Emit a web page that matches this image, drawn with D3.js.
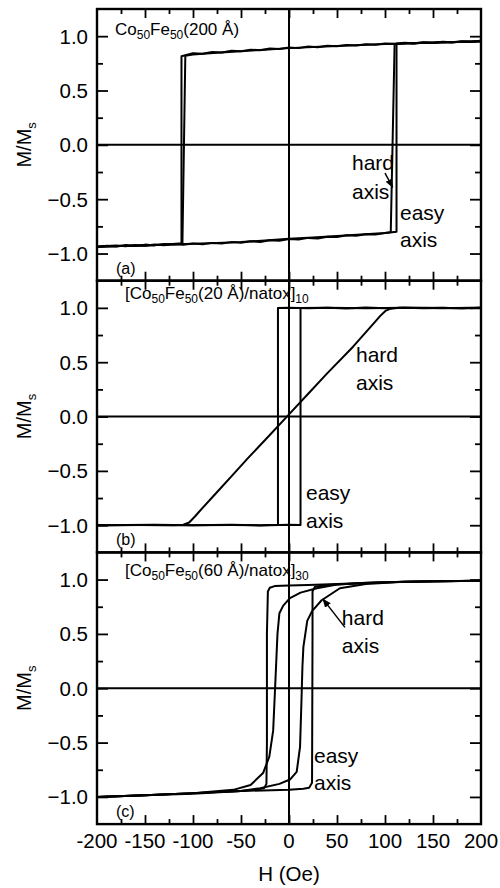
<!DOCTYPE html>
<html>
<head>
<meta charset="utf-8">
<script src="https://cdn.jsdelivr.net/npm/d3@7"></script>
<style>
body { margin: 0; background: #fff; }
text { font-family: "Liberation Sans", Arial, sans-serif; fill: #000; }
</style>
</head>
<body>
<svg id="chart" width="500" height="888"></svg>
<script>
// ---- data: [H (Oe), M/Ms] ----
var xTicksMajor = [-200, -150, -100, -50, 0, 50, 100, 150, 200];
var xTicksMinor = [-175, -125, -75, -25, 25, 75, 125, 175];
var yTicksMajor = [-1.0, -0.5, 0.0, 0.5, 1.0];
var yTicksMinor = [-0.75, -0.25, 0.25, 0.75];

// (a) Co50Fe50(200 A)
var aEasyDown = [[200,0.957],[190,0.950],[180,0.953],[170,0.944],[160,0.948],[150,0.940],[140,0.944],[130,0.934],[120,0.939],[110,0.929],[100,0.933],[90,0.922],[80,0.926],[70,0.915],[60,0.919],[50,0.907],[40,0.912],[30,0.899],[20,0.905],[10,0.890],[0,0.896],[-10,0.881],[-20,0.886],[-30,0.870],[-40,0.876],[-50,0.861],[-60,0.865],[-70,0.850],[-80,0.855],[-90,0.838],[-100,0.843],[-112,0.815],[-112,-0.912],[-120,-0.918],[-130,-0.912],[-140,-0.925],[-150,-0.918],[-160,-0.930],[-170,-0.922],[-180,-0.935],[-190,-0.928],[-200,-0.94]];
var aEasyUp = [[-200,-0.935],[-190,-0.930],[-180,-0.926],[-170,-0.932],[-160,-0.922],[-150,-0.928],[-140,-0.918],[-130,-0.924],[-120,-0.912],[-110,-0.919],[-100,-0.908],[-90,-0.914],[-80,-0.902],[-70,-0.908],[-60,-0.895],[-50,-0.901],[-40,-0.887],[-30,-0.893],[-20,-0.878],[-10,-0.882],[0,-0.866],[10,-0.872],[20,-0.856],[30,-0.861],[40,-0.845],[50,-0.849],[60,-0.832],[70,-0.837],[80,-0.822],[90,-0.826],[100,-0.812],[112,-0.800],[112,0.930],[120,0.936],[130,0.931],[140,0.942],[150,0.937],[160,0.947],[170,0.942],[180,0.952],[190,0.948],[200,0.957]];
var aHardDown = [[200,0.950],[175,0.946],[150,0.942],[125,0.936],[100,0.928],[75,0.918],[50,0.910],[25,0.900],[0,0.890],[-25,0.876],[-50,0.862],[-75,0.848],[-100,0.832],[-108,0.820],[-111,-0.905],[-125,-0.915],[-150,-0.925],[-175,-0.930],[-200,-0.938]];
var aHardUp = [[-200,-0.94],[-175,-0.93],[-150,-0.925],[-125,-0.918],[-100,-0.91],[-75,-0.902],[-50,-0.894],[-25,-0.88],[0,-0.865],[25,-0.852],[50,-0.838],[75,-0.825],[100,-0.812],[106,-0.805],[110,0.925],[125,0.935],[150,0.94],[175,0.946],[200,0.952]];

// (b) [Co50Fe50(20 A)/natox]10
var bEasyDown = [[200,1.0],[180,0.995],[160,1.002],[140,0.996],[120,1.0],[100,0.997],[80,1.003],[60,0.995],[40,1.001],[20,0.996],[0,1.0],[-11.5,0.998],[-11.5,-0.995],[-30,-1.0],[-60,-0.997],[-100,-1.0],[-140,-0.996],[-200,-1.0]];
var bEasyUp = [[-200,-1.0],[-150,-0.998],[-100,-1.0],[-60,-0.996],[-30,-1.002],[0,-0.995],[12,-0.998],[12,0.998],[40,1.0],[80,0.997],[120,1.0],[160,0.996],[200,1.0]];
var bHard = [[-200,-1.0],[-160,-0.998],[-120,-1.0],[-110,-0.995],[-104,-0.975],[-98,-0.92],[-90,-0.84],[-77,-0.715],[-60,-0.55],[-43,-0.385],[-20,-0.17],[0,0.02],[20,0.21],[40,0.40],[67,0.645],[88,0.855],[96,0.935],[101,0.975],[106,0.993],[115,1.0],[140,1.0],[170,0.998],[200,1.0]];

// (c) [Co50Fe50(60 A)/natox]30
var cEasyDown = [[200,0.99],[150,0.985],[100,0.975],[50,0.96],[20,0.95],[0,0.945],[-15,0.94],[-20,0.925],[-22,0.89],[-23,0.5],[-23,-0.5],[-23.5,-0.88],[-26,-0.92],[-35,-0.935],[-50,-0.945],[-100,-0.965],[-150,-0.985],[-200,-1.0]];
var cEasyUp = [[-200,-1.0],[-150,-0.985],[-100,-0.965],[-50,-0.945],[0,-0.935],[15,-0.925],[21,-0.915],[24,-0.87],[24.5,0.5],[24.5,0.89],[27,0.935],[40,0.95],[60,0.96],[100,0.975],[150,0.985],[200,0.99]];
var cHardDown = [[200,0.99],[120,0.98],[80,0.97],[50,0.955],[29,0.92],[12,0.88],[1,0.83],[-6,0.76],[-10,0.69],[-12,0.5],[-13,0.3],[-14.5,0.0],[-16.5,-0.39],[-20.5,-0.63],[-27,-0.78],[-40,-0.89],[-58,-0.935],[-100,-0.965],[-150,-0.985],[-200,-1.0]];
var cHardUp = [[-200,-1.0],[-150,-0.985],[-100,-0.97],[-50,-0.945],[-30,-0.92],[-10,-0.88],[1,-0.84],[8,-0.77],[11.5,-0.54],[13,-0.11],[14,0.2],[15,0.38],[17,0.5],[19,0.62],[24,0.71],[34,0.81],[53,0.92],[80,0.96],[120,0.98],[200,0.99]];

// ---- layout ----
var svg = d3.select('#chart');
var left = 97, plotW = 384, top0 = 9, panelH = 271.7;

var x = d3.scaleLinear().domain([-200, 200]).range([left, left + plotW]);

var panels = [
    {name: 'a', title: ['Co', '50', 'Fe', '50', '(200 Å)'], curves: [aEasyDown, aEasyUp, aHardDown, aHardUp], titleY: 26, titleX: 115,
     notes: [{t: 'hard', h: 65.6, m: -0.23}, {t: 'axis', h: 65.6, m: -0.50}, {t: 'easy', h: 115.6, m: -0.69}, {t: 'axis', h: 115.6, m: -0.94}],
     arrow: [[100, -0.26], [108, -0.39]]},
    {name: 'b', title: ['[Co', '50', 'Fe', '50', '(20 Å)/natox]', '10'], curves: [bEasyDown, bEasyUp, bHard], titleY: 18, titleX: 125,
     notes: [{t: 'hard', h: 69.8, m: 0.50}, {t: 'axis', h: 69.8, m: 0.24}, {t: 'easy', h: 17.7, m: -0.77}, {t: 'axis', h: 17.7, m: -1.03}]},
    {name: 'c', title: ['[Co', '50', 'Fe', '50', '(60 Å)/natox]', '30'], curves: [cEasyDown, cEasyUp, cHardDown, cHardUp], titleY: 24, titleX: 125,
     notes: [{t: 'hard', h: 55, m: 0.58}, {t: 'axis', h: 55, m: 0.32}, {t: 'easy', h: 26, m: -0.69}, {t: 'axis', h: 26, m: -0.94}],
     arrow: [[58.3, 0.56], [35.4, 0.82]]}
];

svg.append('defs').append('marker')
    .attr('id', 'head')
    .attr('viewBox', '0 0 10 10')
    .attr('refX', 9).attr('refY', 5)
    .attr('markerWidth', 9).attr('markerHeight', 9)
    .attr('markerUnits', 'userSpaceOnUse')
    .attr('orient', 'auto')
  .append('path')
    .attr('d', 'M0,1 L10,5 L0,9 Z')
    .attr('fill', '#000');

panels.forEach(function(p, i) {
    var y0 = top0 + i * panelH;
    var y = d3.scaleLinear().domain([-1.25, 1.25]).range([y0 + panelH, y0]);
    var g = svg.append('g').attr('class', 'panel-' + p.name);

    // zero lines
    g.append('line')
        .attr('x1', x(-200)).attr('x2', x(200)).attr('y1', y(0)).attr('y2', y(0))
        .attr('stroke', '#000').attr('stroke-width', 2);
    g.append('line')
        .attr('x1', x(0)).attr('x2', x(0)).attr('y1', y(-1.25)).attr('y2', y(1.25))
        .attr('stroke', '#000').attr('stroke-width', 2);

    // y ticks, inward on both sides
    var axL = d3.axisRight(y).tickValues(yTicksMajor).tickSize(11).tickFormat('');
    var axLm = d3.axisRight(y).tickValues(yTicksMinor).tickSize(6).tickFormat('');
    var axR = d3.axisLeft(y).tickValues(yTicksMajor).tickSize(11).tickFormat('');
    var axRm = d3.axisLeft(y).tickValues(yTicksMinor).tickSize(6).tickFormat('');
    [[axL, left], [axLm, left], [axR, left + plotW], [axRm, left + plotW]].forEach(function(a) {
        var ga = g.append('g').attr('transform', 'translate(' + a[1] + ',0)').call(a[0]);
        ga.select('.domain').remove();
        ga.selectAll('line').attr('stroke-width', 1.8);
    });

    // y labels
    g.selectAll('text.ylab').data(yTicksMajor).enter().append('text')
        .attr('class', 'ylab')
        .attr('x', left - 9).attr('y', function(d) { return y(d) + 7.5; })
        .attr('text-anchor', 'end').attr('font-size', 20.5)
        .text(function(d) { return d3.format('.1f')(d); });

    // x ticks: top and bottom edge of every panel, inward
    var axTop = d3.axisBottom(x).tickValues(xTicksMajor.slice(1, -1)).tickSize(9).tickFormat('');
    var axTopm = d3.axisBottom(x).tickValues(xTicksMinor).tickSize(5).tickFormat('');
    var axBot = d3.axisTop(x).tickValues(xTicksMajor.slice(1, -1)).tickSize(9).tickFormat('');
    var axBotm = d3.axisTop(x).tickValues(xTicksMinor).tickSize(5).tickFormat('');
    [[axTop, y0], [axTopm, y0], [axBot, y0 + panelH], [axBotm, y0 + panelH]].forEach(function(a) {
        var ga = g.append('g').attr('transform', 'translate(0,' + a[1] + ')').call(a[0]);
        ga.select('.domain').remove();
        ga.selectAll('line').attr('stroke-width', 1.8);
    });

    // curves
    var line = d3.line().x(function(d) { return x(d[0]); }).y(function(d) { return y(d[1]); });
    g.selectAll('path.curve').data(p.curves).enter().append('path')
        .attr('class', 'curve')
        .attr('d', line)
        .attr('fill', 'none').attr('stroke', '#000')
        .attr('stroke-width', 2).attr('stroke-linejoin', 'round');

    // frame
    g.append('rect')
        .attr('x', left).attr('y', y0).attr('width', plotW).attr('height', panelH)
        .attr('fill', 'none').attr('stroke', '#000').attr('stroke-width', 2.4);

    // title with subscripts
    var t = g.append('text').attr('x', p.titleX).attr('y', y0 + p.titleY).attr('font-size', 17);
    p.title.forEach(function(s, k) {
        var sub = k % 2 == 1;
        t.append('tspan')
            .attr('font-size', sub ? 12 : 17)
            .attr('dy', k == 0 ? 0 : (sub ? 4 : -4))
            .text(s);
    });

    // panel letter
    g.append('text')
        .attr('x', 116).attr('y', y0 + panelH - 7)
        .attr('font-size', 16)
        .text('(' + p.name + ')');

    // notes
    g.selectAll('text.note').data(p.notes).enter().append('text')
        .attr('class', 'note')
        .attr('x', function(d) { return x(d.h); })
        .attr('y', function(d) { return y(d.m); })
        .attr('font-size', 21)
        .text(function(d) { return d.t; });

    if (p.arrow) {
        g.append('line')
            .attr('x1', x(p.arrow[0][0])).attr('y1', y(p.arrow[0][1]))
            .attr('x2', x(p.arrow[1][0])).attr('y2', y(p.arrow[1][1]))
            .attr('stroke', '#000').attr('stroke-width', 1.5)
            .attr('marker-end', 'url(#head)');
    }

    // y axis title
    var yl = g.append('text')
        .attr('transform', 'translate(31,' + (y0 + panelH / 2) + ') rotate(-90)')
        .attr('text-anchor', 'middle').attr('font-size', 20);
    yl.append('tspan').text('M/M');
    yl.append('tspan').attr('font-size', 13).attr('dy', 5).text('s');
});

// bottom x labels
var yb = top0 + 3 * panelH;
svg.selectAll('text.xlab').data(xTicksMajor).enter().append('text')
    .attr('class', 'xlab')
    .attr('x', function(d) { return x(d); })
    .attr('y', yb + 24)
    .attr('text-anchor', 'middle').attr('font-size', 20.5)
    .text(function(d) { return d; });

svg.append('text')
    .attr('x', x(0)).attr('y', 881)
    .attr('text-anchor', 'middle').attr('font-size', 20.5)
    .text('H (Oe)');
</script>
</body>
</html>
